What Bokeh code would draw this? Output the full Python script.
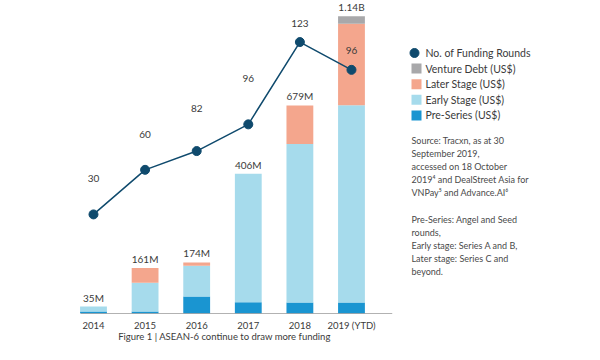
from bokeh.plotting import figure
from bokeh.models import ColumnDataSource, Range1d, FixedTicker
from bokeh.layouts import row
from bokeh.core.properties import value
from bokeh.embed import file_html
from bokeh.resources import INLINE

# ---- data (bar heights; the original is drawn not-to-scale, US$M-like units)
years = ["2014", "2015", "2016", "2017", "2018", "2019 (YTD)"]
pre_series = [7.6, 7.6, 65, 43, 42, 42]
early_stage = [19, 110, 118, 493, 608, 757]
later_stage = [0, 57, 13, 0, 148, 313]
venture_debt = [0, 0, 0, 0, 0, 28]
total_labels = ["35M", "161M", "174M", "406M", "679M", "1.14B"]

rounds = [30, 60, 82, 96, 123, 96]
rounds_level = [44.9, 65.1, 73.6, 85.7, 123, 110.4]   # vertical level of each dot as drawn
round_label_lift = [36, 35, 43, 46, 19, 19]            # px, label placement above the dot

series_names = ["Pre-Series (US$)", "Early Stage (US$)", "Later Stage (US$)", "Venture Debt (US$)"]
series_colors = ["#1a95d1", "#a6dbec", "#f4a68d", "#a8a8aa"]
line_color = "#0f4a6d"
text_color = "#3a3a3a"
note_color = "#4a4a4a"
FONT = value("Lato")

source_lines = ["Source: Tracxn, as at 30", "September 2019,", "accessed on 18 October",
                "2019\u2074 and DealStreet Asia for", "VNPay\u2075 and Advance.AI\u2076"]
note_lines = ["Pre-Series: Angel and Seed", "rounds,", "Early stage: Series A and B,",
              "Later stage: Series C and", "beyond."]
caption = "Figure 1 | ASEAN-6 continue to draw more funding"

# ---- layout constants
H = 344
BOTTOM = 28
FRAME_H = H - BOTTOM

# ---- main chart
xs = list(range(len(years)))
totals = [a + b + c + d for a, b, c, d in zip(pre_series, early_stage, later_stage, venture_debt)]
src = ColumnDataSource(dict(x=xs, pre=pre_series, early=early_stage, later=later_stage,
                            vd=venture_debt, total=totals, tlabel=total_labels,
                            rounds=rounds, rlevel=rounds_level,
                            rtext=[str(r) for r in rounds],
                            rlift=[-v for v in round_label_lift]))

p = figure(width=400, height=H, output_backend="svg", toolbar_location=None,
           x_range=Range1d(-0.872, 5.95), y_range=Range1d(0, FRAME_H * 3.8),
           min_border_left=48, min_border_right=0, min_border_top=0, min_border_bottom=BOTTOM,
           y_axis_location=None)
p.extra_y_ranges = {"rounds": Range1d(0, FRAME_H / 2.228)}
p.outline_line_color = None
p.grid.visible = False

p.vbar_stack(["pre", "early", "later", "vd"], x="x", width=0.52, source=src,
             color=series_colors, line_color=None)

# baseline
p.segment(x0=[-0.25], y0=[0], x1=[5.79], y1=[0], line_color="#666666", line_width=1)

p.text(x="x", y="total", text="tlabel", source=src, y_offset=-3,
       text_align="center", text_baseline="bottom", text_font=FONT,
       text_font_size="10px", text_color=text_color)

p.line(x="x", y="rlevel", source=src, y_range_name="rounds", line_color=line_color, line_width=1.5)
p.scatter(x="x", y="rlevel", source=src, y_range_name="rounds", size=9,
          fill_color=line_color, line_color=line_color)
p.text(x="x", y="rlevel", text="rtext", source=src, y_range_name="rounds", y_offset="rlift",
       text_align="center", text_baseline="middle", text_font=FONT,
       text_font_size="10px", text_color=text_color)

ax = p.xaxis[0]
ax.ticker = FixedTicker(ticks=xs)
ax.major_label_overrides = {i: y for i, y in zip(xs, years)}
ax.axis_line_color = None
ax.major_tick_line_color = None
ax.minor_tick_line_color = None
ax.major_tick_out = 0
ax.major_tick_in = 0
ax.major_label_standoff = 6
ax.major_label_text_font = "Lato"
ax.major_label_text_font_size = "9.5px"
ax.major_label_text_color = text_color
ax.axis_label = caption
ax.axis_label_standoff = -3
ax.axis_label_text_font = "Lato"
ax.axis_label_text_font_style = "normal"
ax.axis_label_text_font_size = "9.5px"
ax.axis_label_text_color = text_color

# ---- side panel: legend and notes (pixel coordinates)
s = figure(width=184, height=H, output_backend="svg", toolbar_location=None,
           x_range=Range1d(0, 184), y_range=Range1d(FRAME_H, 0),
           min_border_left=0, min_border_right=0, min_border_top=0, min_border_bottom=BOTTOM,
           x_axis_location=None, y_axis_location=None)
s.outline_line_color = None
s.grid.visible = False

leg_top, leg_step = 53, 15.75
leg_names = ["No. of Funding Rounds"] + series_names[::-1]
leg_y = [leg_top + leg_step * i for i in range(len(leg_names))]
s.scatter(x=[14], y=leg_y[:1], size=9, fill_color=line_color, line_color=line_color)
s.scatter(x=[16] * 4, y=leg_y[1:], marker="square", size=10,
          fill_color=series_colors[::-1], line_color=None)
s.text(x=[25] * len(leg_names), y=leg_y, text=leg_names, text_baseline="middle",
       text_font=FONT, text_font_size="10.5px", text_color=text_color)

line_step = 13.25
s.text(x=[11] * len(source_lines), y=[141 + line_step * i for i in range(len(source_lines))],
       text=source_lines, text_baseline="middle", text_font=FONT,
       text_font_size="9px", text_color=note_color)
s.text(x=[11] * len(note_lines), y=[221 + line_step * i for i in range(len(note_lines))],
       text=note_lines, text_baseline="middle", text_font=FONT,
       text_font_size="9px", text_color=note_color)

layout = row(p, s)
open("out.html", "w").write(file_html(layout, INLINE))
